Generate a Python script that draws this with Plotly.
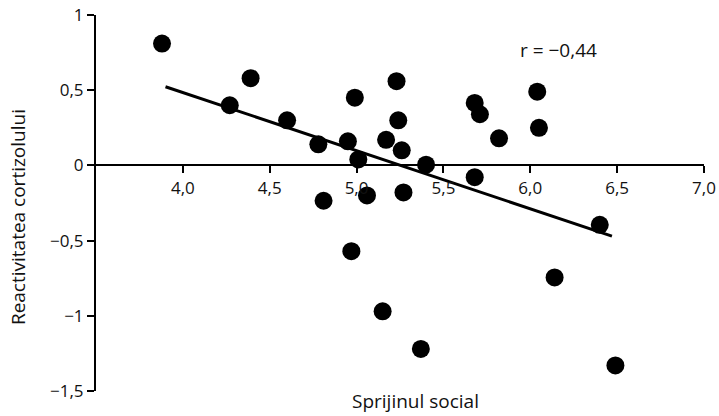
import plotly.graph_objects as go

# Data
sprijin = [3.88, 4.39, 4.27, 4.60, 4.78, 4.81, 4.95, 4.99, 5.01, 5.06,
           5.23, 5.24, 5.17, 5.26, 5.27, 5.40, 5.68, 5.71, 5.82, 6.04,
           6.05, 5.68, 4.97, 5.15, 5.37, 6.14, 6.40, 6.49]
reactivitate = [0.81, 0.58, 0.40, 0.30, 0.14, -0.235, 0.16, 0.45, 0.04, -0.20,
                0.56, 0.30, 0.17, 0.10, -0.18, 0.005, 0.415, 0.34, 0.18, 0.49,
                0.25, -0.078, -0.57, -0.97, -1.22, -0.745, -0.395, -1.33]
fit_x = [3.90, 6.47]
fit_y = [0.523, -0.47]

x_tickvals = [4.0, 4.5, 5.0, 5.5, 6.0, 6.5, 7.0]
x_ticktext = ["4,0", "4,5", "5,0", "5,5", "6,0", "6,5", "7,0"]
y_tickvals = [1, 0.5, 0, -0.5, -1, -1.5]
y_ticktext = ["1", "0,5", "0", "−0,5", "−1", "−1,5"]

FONT = "Open Sans"
TXT = "#111111"

fig = go.Figure()
fig.add_trace(go.Scatter(x=fit_x, y=fit_y, mode="lines",
                         line=dict(color="black", width=3), hoverinfo="skip"))
fig.add_trace(go.Scatter(x=sprijin, y=reactivitate, mode="markers",
                         marker=dict(color="black", size=18, line=dict(width=0))))

fig.update_layout(
    width=719, height=416,
    margin=dict(l=96, r=15, t=15, b=25),
    paper_bgcolor="white", plot_bgcolor="white",
    showlegend=False,
    font=dict(family=FONT, color=TXT, size=16),
    xaxis=dict(range=[3.5, 7.0], anchor="free", position=0.6, automargin=False,
               showline=True, linecolor="black", linewidth=2,
               ticks="outside", ticklen=7, tickwidth=2, tickcolor="black",
               tickvals=x_tickvals, ticktext=x_ticktext,
               showgrid=False, zeroline=False,
               tickfont=dict(family=FONT, size=17, color=TXT)),
    yaxis=dict(range=[-1.5, 1.0], automargin=False,
               showline=True, linecolor="black", linewidth=2,
               ticks="outside", ticklen=7, tickwidth=2, tickcolor="black",
               tickvals=y_tickvals, ticktext=y_ticktext,
               showgrid=False, zeroline=False,
               tickfont=dict(family=FONT, size=17, color=TXT)),
    annotations=[
        dict(text="r = −0,44", x=6.16, y=0.77, xref="x", yref="y",
             showarrow=False, font=dict(family=FONT, size=19, color=TXT)),
        dict(text="Sprijinul social", x=0.525, y=-0.027, xref="paper", yref="paper",
             xanchor="center", yanchor="middle", showarrow=False,
             font=dict(family=FONT, size=19, color=TXT)),
        dict(text="Reactivitatea cortizolului", x=-0.128, y=0.463,
             xref="paper", yref="paper", textangle=-90,
             xanchor="center", yanchor="middle", showarrow=False,
             font=dict(family=FONT, size=19, color=TXT)),
    ],
)

fig.write_html("out.html")
